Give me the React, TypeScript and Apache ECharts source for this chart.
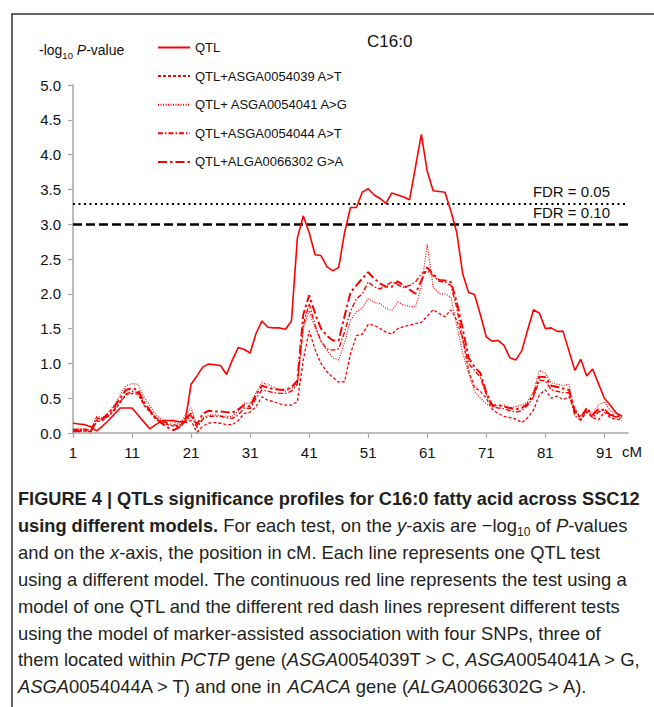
import React, { useEffect, useRef } from "react";
import * as echarts from "echarts";

// ---------- data ----------
const CM = [
  "1","2","3","4","5","6","7","8","9","10","11","12","13","14","15","16","17","18","19","20",
  "21","22","23","24","25","26","27","28","29","30","31","32","33","34","35","36","37","38","39","40",
  "41","42","43","44","45","46","47","48","49","50","51","52","53","54","55","56","57","58","59","60",
  "61","62","63","64","65","66","67","68","69","70","71","72","73","74","75","76","77","78","79","80",
  "81","82","83","84","85","86","87","88","89","90","91","92","93","94","95",
];

const SERIES_NAMES = [
  "QTL",
  "QTL+ASGA0054039 A>T",
  "QTL+ ASGA0054041 A>G",
  "QTL+ASGA0054044 A>T",
  "QTL+ALGA0066302 G>A",
];

const QTL = [
  0.14, 0.13, 0.12, 0.09, 0.03, 0.10, 0.18, 0.27, 0.36, 0.36,
  0.36, 0.26, 0.16, 0.06, 0.12, 0.17, 0.18, 0.18, 0.16, 0.17,
  0.70, 0.82, 0.95, 0.99, 0.98, 0.97, 0.84, 1.05, 1.23, 1.20,
  1.15, 1.43, 1.61, 1.52, 1.51, 1.51, 1.49, 1.61, 2.80, 3.12,
  2.88, 2.56, 2.55, 2.39, 2.33, 2.38, 2.88, 3.24, 3.24, 3.46,
  3.51, 3.42, 3.37, 3.30, 3.45, 3.42, 3.39, 3.35, 3.82, 4.29,
  3.76, 3.48, 3.47, 3.46, 3.19, 2.88, 2.29, 2.02, 1.99, 1.70,
  1.38, 1.32, 1.33, 1.26, 1.08, 1.05, 1.18, 1.48, 1.77, 1.72,
  1.50, 1.51, 1.46, 1.46, 1.18, 0.90, 1.06, 0.82, 0.92, 0.71,
  0.50, 0.40, 0.29, 0.24,
];

const ASGA0054039 = [
  0.02, 0.02, 0.03, 0.02, 0.16, 0.18, 0.24, 0.32, 0.44, 0.55,
  0.57, 0.56, 0.40, 0.30, 0.20, 0.15, 0.12, 0.10, 0.09, 0.15,
  0.18, 0.01, 0.10, 0.14, 0.15, 0.14, 0.12, 0.12, 0.18, 0.28,
  0.30, 0.38, 0.52, 0.47, 0.45, 0.42, 0.40, 0.40, 0.45, 1.05,
  1.47, 1.20, 1.00, 0.88, 0.80, 0.73, 0.74, 1.14, 1.40, 1.42,
  1.56, 1.55, 1.50, 1.45, 1.42, 1.50, 1.53, 1.55, 1.57, 1.59,
  1.68, 1.77, 1.72, 1.67, 1.77, 1.62, 1.35, 0.90, 0.66, 0.60,
  0.50, 0.34, 0.28, 0.24, 0.22, 0.20, 0.15, 0.22, 0.33, 0.55,
  0.62, 0.50, 0.53, 0.48, 0.52, 0.35, 0.19, 0.30, 0.22, 0.19,
  0.30, 0.22, 0.20, 0.18,
];

const ASGA0054041 = [
  0.06, 0.06, 0.05, 0.04, 0.24, 0.22, 0.30, 0.40, 0.55, 0.68,
  0.71, 0.70, 0.52, 0.40, 0.26, 0.20, 0.18, 0.16, 0.12, 0.25,
  0.36, 0.10, 0.22, 0.26, 0.26, 0.25, 0.24, 0.24, 0.32, 0.43,
  0.42, 0.58, 0.72, 0.70, 0.66, 0.62, 0.60, 0.64, 0.72, 1.50,
  1.76, 1.50, 1.32, 1.19, 1.08, 1.05, 1.30, 1.62, 1.74, 1.80,
  1.93, 1.88, 1.86, 1.79, 1.76, 1.88, 1.84, 1.82, 1.81, 2.10,
  2.71, 2.10, 2.00, 2.00, 1.95, 1.55, 1.15, 0.86, 0.60, 0.50,
  0.42, 0.38, 0.40, 0.40, 0.36, 0.38, 0.40, 0.45, 0.60, 0.90,
  0.86, 0.72, 0.70, 0.68, 0.70, 0.30, 0.25, 0.32, 0.28, 0.40,
  0.45, 0.32, 0.28, 0.22,
];

const ASGA0054044 = [
  0.05, 0.05, 0.06, 0.03, 0.22, 0.19, 0.25, 0.34, 0.45, 0.56,
  0.60, 0.58, 0.42, 0.32, 0.22, 0.17, 0.14, 0.12, 0.10, 0.16,
  0.25, 0.08, 0.20, 0.24, 0.24, 0.24, 0.22, 0.21, 0.26, 0.36,
  0.35, 0.50, 0.62, 0.60, 0.58, 0.57, 0.57, 0.60, 0.70, 1.55,
  1.86, 1.55, 1.32, 1.21, 1.19, 1.21, 1.45, 1.75, 1.93, 2.00,
  2.17, 2.10, 2.07, 2.12, 2.17, 2.13, 2.09, 2.12, 2.17, 2.29,
  2.33, 2.26, 2.18, 2.17, 2.12, 1.80, 1.35, 1.00, 0.90, 0.80,
  0.55, 0.38, 0.36, 0.35, 0.32, 0.30, 0.32, 0.40, 0.52, 0.76,
  0.75, 0.62, 0.60, 0.58, 0.58, 0.25, 0.18, 0.34, 0.22, 0.30,
  0.35, 0.25, 0.23, 0.20,
];

const ALGA0066302 = [
  0.03, 0.03, 0.04, 0.02, 0.18, 0.20, 0.28, 0.38, 0.50, 0.62,
  0.64, 0.62, 0.45, 0.33, 0.22, 0.14, 0.08, 0.04, 0.08, 0.20,
  0.28, 0.12, 0.28, 0.32, 0.31, 0.31, 0.30, 0.29, 0.34, 0.40,
  0.38, 0.55, 0.68, 0.65, 0.63, 0.62, 0.62, 0.66, 0.75, 1.70,
  1.98, 1.72, 1.50, 1.40, 1.33, 1.33, 1.68, 2.02, 2.12, 2.22,
  2.31, 2.22, 2.15, 2.10, 2.10, 2.18, 2.12, 2.06, 2.00, 2.19,
  2.38, 2.28, 2.20, 2.19, 2.17, 1.88, 1.50, 1.08, 0.95, 0.86,
  0.58, 0.40, 0.40, 0.38, 0.36, 0.34, 0.36, 0.42, 0.55, 0.81,
  0.80, 0.68, 0.66, 0.64, 0.62, 0.30, 0.22, 0.36, 0.26, 0.34,
  0.33, 0.26, 0.25, 0.22,
];

const FDR_VALUES = [3.3, 3.0];
const FDR_LABELS = ["FDR = 0.05", "FDR = 0.10"];

const TITLE = "C16:0";

// ---------- styles ----------
const FONT = "'Liberation Sans', Arial, Helvetica, sans-serif";
const CAP_FONT = "'Liberation Sans', Arial, Helvetica, sans-serif";
const RED = "#ff0000";
const AXIS_GRAY = "#a6a6a6";
const TEXT = "#111111";
const CAP_COLOR = "#231f20";

const SERIES_STYLES = [
  { width: 1.6, type: "solid" },
  { width: 1.3, type: [3, 2] },
  { width: 1.2, type: [1, 1.5] },
  { width: 1.4, type: [5, 2, 1.5, 2] },
  { width: 2.0, type: [9, 3, 2.5, 3] },
];

const FDR_STYLES = [
  { color: "#000", width: 2, type: [2, 3.5] },
  { color: "#000", width: 2.6, type: [9, 4] },
];

type Seg = [string, string];
const CAPTION: Seg[][] = [
  [["b", "FIGURE 4 | QTLs significance profiles for C16:0 fatty acid across SSC12"]],
  [
    ["b", "using different models."],
    ["n", " For each test, on the "],
    ["i", "y"],
    ["n", "-axis are \u2212log"],
    ["s", "10"],
    ["n", " of "],
    ["i", "P"],
    ["n", "-values"],
  ],
  [
    ["n", "and on the "],
    ["i", "x"],
    ["n", "-axis, the position in cM. Each line represents one QTL test"],
  ],
  [["n", "using a different model. The continuous red line represents the test using a"]],
  [["n", "model of one QTL and the different red dash lines represent different tests"]],
  [["n", "using the model of marker-assisted association with four SNPs, three of"]],
  [
    ["n", "them located within "],
    ["i", "PCTP"],
    ["n", " gene ("],
    ["i", "ASGA"],
    ["n", "0054039T > C, "],
    ["i", "ASGA"],
    ["n", "0054041A > G,"],
  ],
  [
    ["i", "ASGA"],
    ["n", "0054044A > T) and one in "],
    ["i", "ACACA"],
    ["n", " gene ("],
    ["i", "ALGA"],
    ["n", "0066302G > A)."],
  ],
];

const toRich = (segs: Seg[]) => segs.map(([k, t]) => `{${k}|${t}}`).join("");

const capRich = {
  n: { fontSize: 18.4, fontFamily: CAP_FONT, fill: CAP_COLOR, color: CAP_COLOR, lineHeight: 25 },
  b: { fontSize: 18.2, fontFamily: CAP_FONT, fontWeight: "bold", fill: CAP_COLOR, color: CAP_COLOR, lineHeight: 25 },
  i: { fontSize: 18.4, fontFamily: CAP_FONT, fontStyle: "italic", fill: CAP_COLOR, color: CAP_COLOR, lineHeight: 25 },
  s: { fontSize: 12, fontFamily: CAP_FONT, fill: CAP_COLOR, color: CAP_COLOR, lineHeight: 15, verticalAlign: "bottom" },
};

export default function App() {
  const ref = useRef<HTMLDivElement>(null);

  useEffect(() => {
    if (!ref.current) return;
    const chart = echarts.init(ref.current, undefined, { renderer: "svg" });

    const allData = [QTL, ASGA0054039, ASGA0054041, ASGA0054044, ALGA0066302];

    const series: any[] = allData.map((d, i) => ({
      name: SERIES_NAMES[i],
      type: "line",
      data: d,
      symbol: "none",
      showSymbol: false,
      z: i === 0 ? 5 : 3,
      lineStyle: { color: RED, width: SERIES_STYLES[i].width, type: SERIES_STYLES[i].type },
      itemStyle: { color: RED },
      emphasis: { disabled: true },
    }));

    series[0].markLine = {
      silent: true,
      symbol: ["none", "none"],
      animation: false,
      data: FDR_VALUES.map((v, i) => ({
        yAxis: v,
        lineStyle: FDR_STYLES[i],
        label: {
          show: true,
          position: "insideEndTop",
          formatter: FDR_LABELS[i],
          fontSize: 15,
          fontFamily: FONT,
          color: TEXT,
          distance: 4,
          padding: [0, 14, 0, 0],
        },
      })),
    };

    const captionGraphics = CAPTION.map((segs, i) => ({
      type: "text",
      x: 18,
      y: 499 + i * 26.8,
      style: {
        text: toRich(segs),
        rich: capRich,
        fontSize: 18.4,
        fontFamily: CAP_FONT,
        fill: CAP_COLOR,
        verticalAlign: "middle",
        align: "left",
      },
    }));

    const option: any = {
      animation: false,
      backgroundColor: "#ffffff",
      textStyle: { fontFamily: FONT },
      title: {
        text: TITLE,
        left: 367,
        top: 33,
        padding: 0,
        textStyle: { fontSize: 17, fontWeight: "normal", color: TEXT, fontFamily: FONT },
      },
      legend: {
        orient: "vertical",
        left: 157,
        top: 41,
        padding: 0,
        itemWidth: 32,
        itemHeight: 14,
        itemGap: 15.6,
        selectedMode: false,
        data: SERIES_NAMES,
        itemStyle: { opacity: 0 },
        textStyle: { fontSize: 13, color: TEXT, fontFamily: FONT },
      },
      grid: { left: 73, top: 85, width: 555, height: 348 },
      xAxis: {
        type: "category",
        data: CM,
        boundaryGap: false,
        name: "cM",
        nameLocation: "end",
        nameGap: -6,
        nameTextStyle: {
          fontSize: 15,
          color: TEXT,
          fontFamily: FONT,
          verticalAlign: "top",
          align: "left",
          padding: [11, 0, 0, 0],
        },
        axisLine: { lineStyle: { color: AXIS_GRAY, width: 1.5 } },
        axisTick: {
          show: true,
          interval: (i: number) => i % 10 === 0,
          length: 5,
          lineStyle: { color: AXIS_GRAY, width: 1.2 },
        },
        axisLabel: {
          interval: (i: number) => i % 10 === 0,
          fontSize: 15,
          color: TEXT,
          margin: 12,
          fontFamily: FONT,
        },
        splitLine: { show: false },
      },
      yAxis: {
        type: "value",
        min: 0,
        max: 5,
        interval: 0.5,
        axisLine: { show: true, lineStyle: { color: AXIS_GRAY, width: 1.5 } },
        axisTick: { show: true, length: 5, lineStyle: { color: AXIS_GRAY, width: 1.2 } },
        axisLabel: {
          formatter: (v: number) => v.toFixed(1),
          fontSize: 15,
          color: TEXT,
          margin: 12,
          fontFamily: FONT,
        },
        splitLine: { show: false },
      },
      graphic: [
        {
          type: "polyline",
          shape: { points: [[12, 720], [12, 14], [660, 14]] },
          style: { stroke: "#333333", lineWidth: 1.5, fill: null },
          silent: true,
        },
        {
          type: "text",
          x: 39,
          y: 50,
          style: {
            text: "{n|-log}{s|10}{n| }{i|P}{n|-value}",
            rich: {
              n: { fontSize: 14, fontFamily: FONT, fill: TEXT, color: TEXT, lineHeight: 20 },
              i: { fontSize: 14, fontFamily: FONT, fontStyle: "italic", fill: TEXT, color: TEXT, lineHeight: 20 },
              s: { fontSize: 9.5, fontFamily: FONT, fill: TEXT, color: TEXT, lineHeight: 11, verticalAlign: "bottom" },
            },
            fontSize: 14,
            fontFamily: FONT,
            fill: TEXT,
            verticalAlign: "middle",
            align: "left",
          },
        },
        ...captionGraphics,
      ],
      series,
    };

    chart.setOption(option);
    return () => chart.dispose();
  }, []);

  return (
    <div
      ref={ref}
      style={{ position: "absolute", left: 0, top: 0, width: 654, height: 707, background: "#fff" }}
    />
  );
}
